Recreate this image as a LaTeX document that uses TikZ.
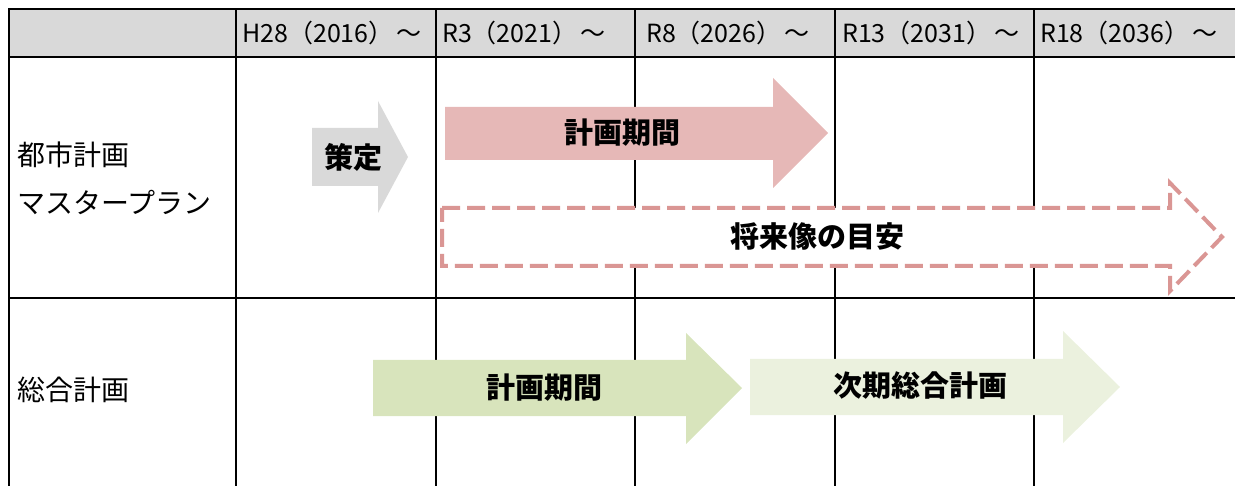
\documentclass[tikz,border=0pt]{standalone}
\usepackage{fontspec}
\setmainfont{Noto Sans CJK JP}
\definecolor{hdr}{HTML}{D9D9D9}
\definecolor{grayarrow}{HTML}{D9D9D9}
\definecolor{pinkarrow}{HTML}{E6B8B7}
\definecolor{pinkdash}{HTML}{DA9694}
\definecolor{greenarrow}{HTML}{D8E4BC}
\definecolor{lightgreen}{HTML}{EBF1DE}
\tikzset{
  grid/.style={line width=2pt, black},
  hdrtext/.style={anchor=west, font=\fontsize{25}{28}\selectfont, inner sep=0pt},
  rowtext/.style={anchor=west, font=\fontsize{28}{32}\selectfont, inner sep=0pt},
  arrowtext/.style={font=\bfseries\fontsize{29}{32}\selectfont, inner sep=0pt},
}
\begin{document}
\begin{tikzpicture}[x=1pt,y=-1pt]
\useasboundingbox (0,0) rectangle (1235,486);
% header
\fill[hdr] (9,9) rectangle (1235,57);
% grid
\draw[grid] (1235,9) -- (9,9) -- (9,486);
\draw[grid] (9,57) -- (1235,57);
\draw[grid] (9,298) -- (1235,298);
\foreach \x in {236,436,635,835,1034} \draw[grid] (\x,9) -- (\x,486);
% header texts
\node[hdrtext] (h1) at (242,33) {H28（2016）\hspace{3pt}～};
\node[hdrtext] (h2) at (442,33) {R3（2021）\hspace{3pt}～};
\node[hdrtext] (h3) at (646,33) {R8（2026）\hspace{3pt}～};
\node[hdrtext] (h4) at (842,33) {R13（2031）\hspace{3pt}～};
\node[hdrtext] (h5) at (1040,33) {R18（2036）\hspace{3pt}～};
% row labels
\node[rowtext] (r1a) at (17,155) {都市計画};
\node[rowtext] (r1b) at (17,202) {マスタープラン};
\node[rowtext] (r2) at (17,390) {総合計画};
% arrows
\fill[grayarrow] (312,128) -- (378,128) -- (378,101) -- (408,157) -- (378,213) -- (378,186) -- (312,186) -- cycle;
\fill[pinkarrow] (445,107) -- (773,107) -- (773,78) -- (828,133) -- (773,188) -- (773,160) -- (445,160) -- cycle;
\draw[pinkdash, line width=4pt, fill=white, dash pattern=on 18pt off 7pt, miter limit=10]
  (442,208) -- (1170,208) -- (1170,183) -- (1222,237) -- (1170,291) -- (1170,266) -- (442,266) -- cycle;
\fill[greenarrow] (373,360) -- (686,360) -- (686,333) -- (742,388) -- (686,444) -- (686,416) -- (373,416) -- cycle;
\fill[lightgreen] (750,359) -- (1063,359) -- (1063,331) -- (1120,387) -- (1063,443) -- (1063,415) -- (750,415) -- cycle;
% arrow labels
\node[arrowtext] (t1) at (353,157) {策定};
\node[arrowtext] (t2) at (622,133) {計画期間};
\node[arrowtext] (t3) at (817,236) {将来像の目安};
\node[arrowtext] (t4) at (544,388) {計画期間};
\node[arrowtext] (t5) at (920,386) {次期総合計画};
\end{tikzpicture}
\end{document}
